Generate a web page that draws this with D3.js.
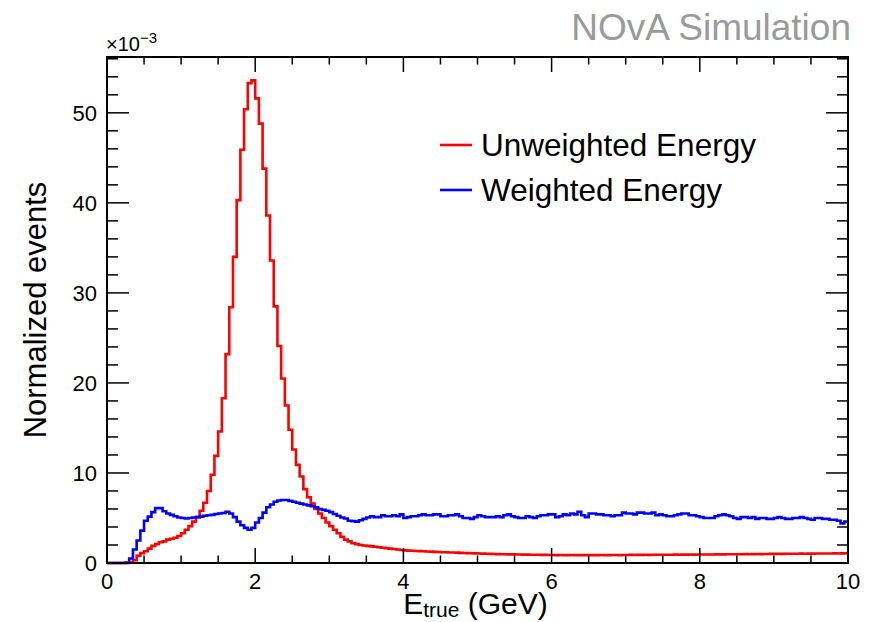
<!DOCTYPE html>
<html><head><meta charset="utf-8">
<script src="https://cdn.jsdelivr.net/npm/d3@7"></script>
<style>
body{margin:0;background:#fff}
svg{display:block}
text{font-family:"Liberation Sans",Arial,Helvetica,sans-serif}
</style>
</head><body>
<svg id="c" width="871" height="622"></svg>
<script>
// ---- data (values in units of 1e-3) ----
const xRange = [0, 10];
const binWidth = 0.05;
const xTicks = [0, 2, 4, 6, 8, 10];
const yTicks = [0, 10, 20, 30, 40, 50];
const seriesNames = ["Unweighted Energy", "Weighted Energy"];
const unweighted = [
0,0,0,0,0,0,0.05,0.3,0.8,1.1,
1.3,1.6,1.9,2.1,2.3,2.4,2.6,2.7,2.8,3.0,
3.3,3.7,4.1,4.6,5.1,5.8,6.7,8.0,9.8,11.9,
14.6,18.3,23.2,28.4,34.0,40.3,45.9,50.4,53.3,53.6,
51.6,48.8,43.8,38.6,33.6,28.5,24.1,20.5,17.5,14.8,
12.6,10.9,9.6,8.2,7.3,6.6,6.0,5.5,5.0,4.5,
4.1,3.7,3.3,2.9,2.6,2.4,2.2,2.1,2.0,1.95,
1.9,1.85,1.8,1.75,1.7,1.65,1.6,1.55,1.5,1.45,
1.4,1.38,1.36,1.34,1.32,1.3,1.28,1.26,1.24,1.22,
1.2,1.19,1.17,1.16,1.15,1.13,1.11,1.1,1.08,1.07,
1.05,1.04,1.02,1.01,1.0,0.99,0.98,0.97,0.96,0.96,
0.95,0.94,0.93,0.93,0.92,0.92,0.91,0.9,0.9,0.89,
0.89,0.88,0.89,0.88,0.88,0.89,0.88,0.87,0.88,0.88,
0.87,0.88,0.88,0.89,0.88,0.88,0.89,0.89,0.88,0.89,
0.89,0.9,0.89,0.9,0.9,0.91,0.9,0.91,0.91,0.92,
0.91,0.92,0.92,0.93,0.92,0.93,0.93,0.94,0.93,0.94,
0.94,0.95,0.95,0.95,0.96,0.96,0.96,0.97,0.97,0.97,
0.98,0.98,0.99,0.98,0.99,1.0,0.99,1.0,1.0,1.01,
1.01,1.02,1.01,1.02,1.03,1.02,1.03,1.04,1.03,1.04,
1.04,1.05,1.05,1.05,1.06,1.06,1.07,1.06,1.07,1.08
];
const weighted = [
0,0,0,0,0,0.05,0.5,1.5,2.5,3.6,
4.7,5.15,5.65,6.1,6.1,5.75,5.5,5.35,5.2,5.05,
5.0,4.95,5.0,5.05,5.1,5.15,5.25,5.3,5.35,5.45,
5.5,5.55,5.7,5.5,5.1,4.6,4.2,3.9,3.7,3.9,
4.5,5.0,5.6,6.2,6.5,6.8,6.95,7.0,7.0,6.9,
6.8,6.7,6.6,6.5,6.4,6.3,6.2,6.0,5.9,5.8,
5.65,5.45,5.25,5.05,4.95,4.7,4.65,4.6,4.75,4.9,
5.05,5.2,5.1,5.1,5.3,5.2,5.2,5.3,5.2,5.4,
5.0,5.1,5.2,5.2,5.3,5.4,5.3,5.3,5.4,5.4,
5.2,5.2,5.3,5.3,5.4,5.2,5.0,5.0,4.9,5.1,
5.3,5.2,5.1,5.1,5.1,5.2,5.1,5.3,5.4,5.2,
5.1,5.0,5.0,5.2,5.1,5.0,5.2,5.3,5.3,5.4,
5.4,5.1,5.2,5.4,5.3,5.5,5.4,5.7,5.3,5.1,
5.5,5.5,5.4,5.4,5.3,5.3,5.2,5.3,5.3,5.6,
5.5,5.5,5.4,5.6,5.6,5.5,5.5,5.6,5.3,5.4,
5.3,5.2,5.2,5.3,5.4,5.5,5.5,5.3,5.3,5.2,
5.1,5.0,5.0,5.0,5.2,5.3,5.4,5.3,5.2,5.0,
4.9,5.1,5.1,5.0,5.1,4.9,5.0,5.0,4.9,4.9,
5.0,5.1,5.0,4.9,4.9,5.0,5.0,5.1,5.0,4.9,
4.8,5.0,5.0,4.9,4.9,4.8,4.8,4.7,4.4,4.6
];
const colors = ["#ff0000", "#0000ff"];

// ---- layout ----
const L = 107, R = 848, T = 57, B = 563;
const svg = d3.select("#c");
const x = d3.scaleLinear().domain(xRange).range([L, R]);
const y = d3.scaleLinear().domain([0, 56.2]).range([B, T]);

// histograms
function stepPoints(vals){
  const pts = vals.map((v,i)=>[xRange[0]+i*binWidth, v]);
  pts.push([xRange[0]+vals.length*binWidth, vals[vals.length-1]]);
  return pts;
}
const line = d3.line().x(d=>x(d[0])).y(d=>y(d[1])).curve(d3.curveStepAfter);
[unweighted, weighted].forEach((vals,i)=>{
  svg.append("path").attr("d", line(stepPoints(vals)))
    .attr("fill","none").attr("stroke",colors[i]).attr("stroke-width",2.6)
    .attr("stroke-linejoin","miter");
});

// frame
svg.append("rect").attr("x",L).attr("y",T).attr("width",R-L).attr("height",B-T)
  .attr("fill","none").attr("stroke","#000").attr("stroke-width",2);

// x ticks (bottom and top)
const xMinor = d3.range(0, 10.001, 0.5);
const gx = svg.append("g");
xMinor.forEach(v=>{
  const major = Math.abs(v - Math.round(v/2)*2) < 1e-6;
  const len = major ? 15 : 7.5;
  gx.append("line").attr("x1",x(v)).attr("x2",x(v)).attr("y1",B).attr("y2",B-len).attr("stroke","#000").attr("stroke-width",1.5);
  gx.append("line").attr("x1",x(v)).attr("x2",x(v)).attr("y1",T).attr("y2",T+len).attr("stroke","#000").attr("stroke-width",1.5);
});
xTicks.forEach(v=>{
  svg.append("text").attr("x",x(v)).attr("y",589).attr("text-anchor","middle")
    .attr("font-size",22).text(v);
});
// y ticks (left and right)
const yMinor = d3.range(0, 56.01, 2);
yMinor.forEach(v=>{
  const major = v % 10 === 0;
  const len = major ? 22 : 11;
  svg.append("line").attr("x1",L).attr("x2",L+len).attr("y1",y(v)).attr("y2",y(v)).attr("stroke","#000").attr("stroke-width",1.5);
  svg.append("line").attr("x1",R).attr("x2",R-len).attr("y1",y(v)).attr("y2",y(v)).attr("stroke","#000").attr("stroke-width",1.5);
});
yTicks.forEach(v=>{
  svg.append("text").attr("x",97).attr("y",y(v)).attr("dy","0.36em").attr("text-anchor","end")
    .attr("font-size",22).text(v);
});

// exponent
const ex = svg.append("text").attr("x",106).attr("y",51).attr("font-size",20);
ex.append("tspan").text("\u00d710");
ex.append("tspan").attr("font-size",15).attr("dy",-8).text("\u22123");

// axis titles
const xt = svg.append("text").attr("x",(L+R)/2 - 2).attr("y",614).attr("text-anchor","middle").attr("font-size",30);
xt.append("tspan").text("E");
xt.append("tspan").attr("font-size",21).attr("dy",3).text("true");
xt.append("tspan").attr("dy",-3).text(" (GeV)");

svg.append("text").attr("transform",`translate(46,${(T+B)/2}) rotate(-90)`)
  .attr("text-anchor","middle").attr("font-size",31).text("Normalized events");

// NOvA label
svg.append("text").attr("x",851).attr("y",40).attr("text-anchor","end")
  .attr("font-size",37).attr("fill","#9a9a9a").text("NOvA Simulation");

// legend
const legY = [145, 190];
seriesNames.forEach((n,i)=>{
  svg.append("line").attr("x1",440).attr("x2",472).attr("y1",legY[i]).attr("y2",legY[i])
    .attr("stroke",colors[i]).attr("stroke-width",2.6);
  svg.append("text").attr("x",481).attr("y",legY[i]).attr("dy","0.36em")
    .attr("font-size",31.5).text(n);
});
</script>
</body></html>
